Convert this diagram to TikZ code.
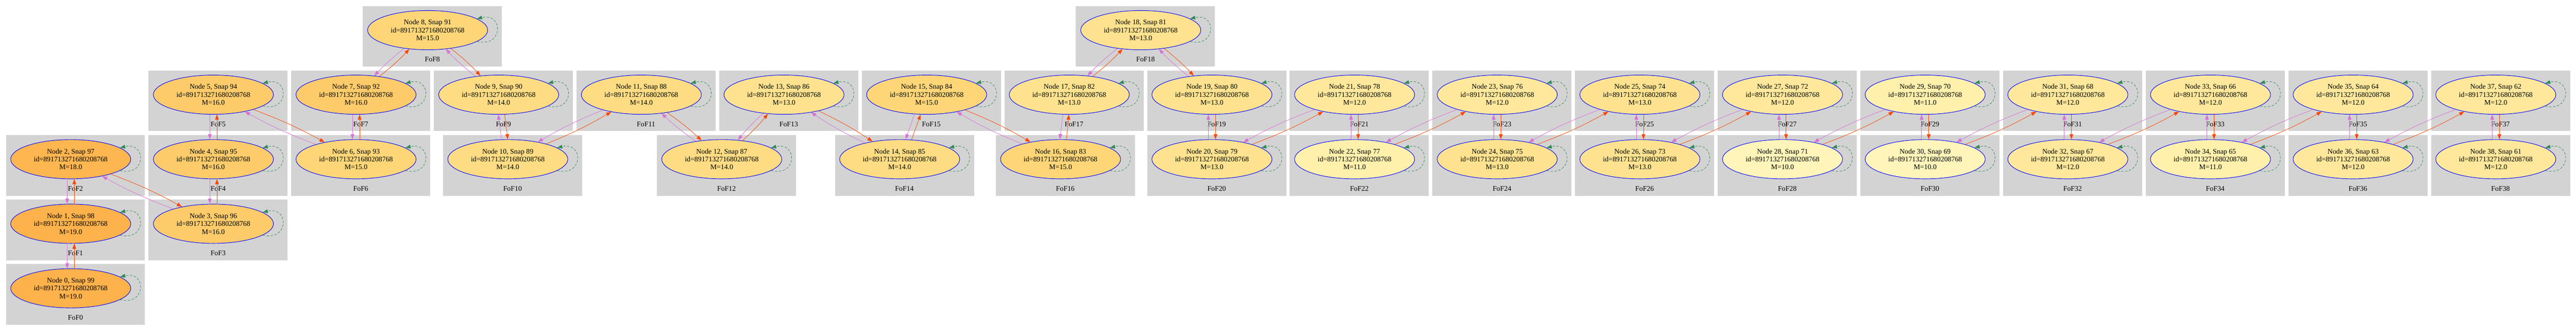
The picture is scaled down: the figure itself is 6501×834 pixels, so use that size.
\documentclass[tikz,border=0pt]{standalone}
\usepackage{fontspec}
\setmainfont{Liberation Serif}
\usetikzlibrary{arrows.meta,shapes.geometric,calc}
\definecolor{clgray}{HTML}{D3D3D3}
\definecolor{orchidc}{HTML}{DA70D6}
\definecolor{oredc}{HTML}{FF4500}
\definecolor{sgreen}{HTML}{2E8B57}
\definecolor{mc10}{HTML}{FFF5BA}
\definecolor{mc11}{HTML}{FFF0AC}
\definecolor{mc12}{HTML}{FFE89C}
\definecolor{mc13}{HTML}{FEE28F}
\definecolor{mc14}{HTML}{FEDC83}
\definecolor{mc15}{HTML}{FED678}
\definecolor{mc16}{HTML}{FECB6B}
\definecolor{mc18}{HTML}{FEB650}
\definecolor{mc19}{HTML}{FEB24C}
\begin{document}
\begin{tikzpicture}[x=0.75pt,y=0.75pt,
  fofbox/.style={rectangle, fill=clgray, draw=none, minimum width=263.25pt, minimum height=114.75pt, inner sep=0pt},
  fofname/.style={font=\fontsize{13.5}{15}\selectfont, anchor=base, inner sep=0pt},
  halo/.style={ellipse, draw=blue, line width=0.9pt, minimum width=227.25pt, minimum height=74.25pt, inner sep=0pt, align=center, font=\fontsize{13.5}{15}\selectfont},
  tipped/.style={-{Triangle[length=9.75pt,width=7pt]}},
  backlink/.style={tipped, draw=orchidc, line width=0.75pt},
  fwdlink/.style={tipped, draw=oredc, line width=0.75pt},
  selfloop/.style={tipped, draw=sgreen, line width=0.75pt, dash pattern=on 4.5pt off 3pt}
]
\fill[white] (0,0) rectangle (6501,-834);
\useasboundingbox (0,0) rectangle (6501,-834);
\foreach \n/\L/\T/\M in {
 0/15/666/19, 1/15/503.25/19, 2/15/340.5/18, 3/375/503.25/16, 4/375/340.5/16,
 5/375/177.75/16, 6/735/340.5/15, 7/735/177.75/16, 8/915.7/15/15, 9/1095/177.75/14,
 10/1118/340.5/14, 11/1455/177.75/14, 12/1658/340.5/14, 13/1815/177.75/13, 14/2107/340.5/14,
 15/2175/177.75/15, 16/2513/340.5/15, 17/2535/177.75/13, 18/2715.4/15/13, 19/2895/177.75/13,
 20/2895/340.5/13, 21/3255/177.75/12, 22/3255/340.5/11, 23/3615/177.75/12, 24/3615/340.5/13,
 25/3975/177.75/13, 26/3975/340.5/13, 27/4335/177.75/12, 28/4335/340.5/10, 29/4695/177.75/11,
 30/4695/340.5/10, 31/5055/177.75/12, 32/5055/340.5/12, 33/5415/177.75/12, 34/5415/340.5/11,
 35/5775/177.75/12, 36/5775/340.5/12, 37/6135/177.75/12, 38/6135/340.5/12}{
  \node[fofbox] (c\n) at (\L+175.5,-\T-76.5) {};
  \node[fofname] (l\n) at (\L+175.5,-\T-141) {FoF\n};
  \pgfmathtruncatemacro\snap{99-\n}
  \node[halo, fill=mc\M] (n\n) at (\L+163.5,-\T-61) {Node \n, Snap \snap\\id=891713271680208768\\M=\M.0};
}
% self loops
\foreach \n in {0,...,38}{
  \draw[selfloop] (n\n.-13) .. controls +(67,-16) and +(67,16) .. (n\n.13);
}
% vertical pairs (top node, bottom node)
\foreach \lo/\hi in {0/1,1/2,3/4,4/5,6/7}{
  \draw[backlink] ([shift={(-9,0)}]n\hi.south) -- ([shift={(-9,0)}]n\lo.north);
  \draw[fwdlink] ([shift={(9,0)}]n\lo.north) -- ([shift={(9,0)}]n\hi.south);
}
\foreach \up/\dn in {19/20,21/22,23/24,25/26,27/28,29/30,31/32,33/34,35/36,37/38}{
  \draw[backlink] ([shift={(-9,0)}]n\dn.north) -- ([shift={(-9,0)}]n\up.south);
  \draw[fwdlink] ([shift={(9,0)}]n\up.south) -- ([shift={(9,0)}]n\dn.north);
}
\draw[backlink] ([shift={(-16,0)}]n10.north) -- ([shift={(-1,0)}]n9.south);
\draw[fwdlink] ([shift={(15,0)}]n9.south) -- ([shift={(0,0)}]n10.north);
\draw[backlink] ([shift={(-31,0)}]n15.south) -- ([shift={(15,0)}]n14.north);
\draw[fwdlink] ([shift={(30,0)}]n14.north) -- ([shift={(-15,0)}]n15.south);
\draw[backlink] ([shift={(-16,0)}]n17.south) -- ([shift={(-2,0)}]n16.north);
\draw[fwdlink] ([shift={(15,0)}]n16.north) -- ([shift={(-1,0)}]n17.south);
% diagonal pairs
\foreach \a/\b/\side in {2/3/left,5/6/left,7/8/right,8/9/left,10/11/right,11/12/left,
  12/13/right,13/14/left,15/16/left,17/18/right,18/19/left,20/21/right,22/23/right,
  24/25/right,26/27/right,28/29/right,30/31/right,32/33/right,34/35/right,36/37/right}{
  \draw[fwdlink] (n\a) to[bend \side=4] (n\b);
  \draw[backlink] (n\b) to[bend \side=4] (n\a);
}
\end{tikzpicture}
\end{document}
